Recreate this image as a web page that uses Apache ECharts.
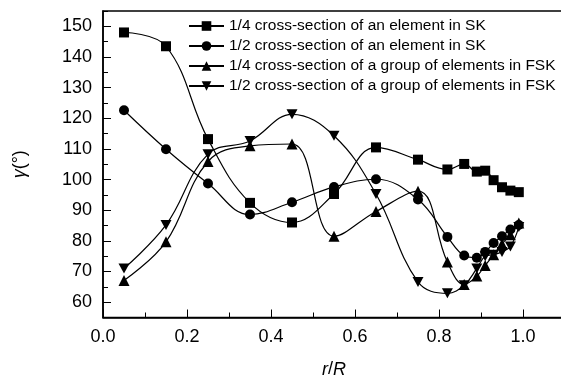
<!DOCTYPE html>
<html><head><meta charset="utf-8">
<script src="https://cdn.jsdelivr.net/npm/echarts@6/dist/echarts.min.js"></script>
<style>html,body{margin:0;padding:0;background:#fff}#c{width:561px;height:382px}</style>
</head><body><div id="c"></div>
<script>
// ---- data ----
const seriesNames = [
  '1/4 cross-section of an element in SK',
  '1/2 cross-section of an element in SK',
  '1/4 cross-section of a group of elements in FSK',
  '1/2 cross-section of a group of elements in FSK'
];
const rR = [0.05, 0.15, 0.25, 0.35, 0.45, 0.55, 0.65, 0.75, 0.82, 0.86, 0.89, 0.91, 0.93, 0.95, 0.97, 0.99];
const quarterSK  = [148.0, 143.5, 113.2, 92.4, 86.0, 95.3, 110.5, 106.5, 103.3, 105.1, 102.6, 102.9, 99.8, 97.5, 96.4, 95.9];
const halfSK     = [122.6, 109.9, 98.7, 88.6, 92.6, 97.6, 100.1, 93.5, 81.3, 75.2, 74.5, 76.4, 79.3, 81.5, 83.7, 85.2];
const quarterFSK = [67.1, 79.7, 105.9, 111.0, 111.6, 81.5, 89.6, 96.2, 73.1, 65.8, 68.5, 72.0, 75.5, 79.0, 82.0, 85.8];
const halfFSK    = [71.0, 85.2, 108.3, 112.6, 121.3, 114.3, 95.3, 66.6, 62.9, 65.5, 71.0, 75.0, 75.5, 76.4, 78.2, 84.5];
const xTicks = [0.0, 0.2, 0.4, 0.6, 0.8, 1.0];
const yTicks = [60, 70, 80, 90, 100, 110, 120, 130, 140, 150];
const yMinorTicks = [65, 75, 85, 95, 105, 115, 125, 135, 145, 155];

const valuesList = [quarterSK, halfSK, quarterFSK, halfFSK];
const symbols = ['rect', 'circle', 'triangle', 'path://M0,0 L10,0 L5,9 Z'];
const symSizes = [10, 10, 11, [11, 10]];

const font = 'Liberation Sans, Arial, sans-serif';
const chart = echarts.init(document.getElementById('c'), null, {renderer: 'canvas'});
const option = {
  animation: false,
  backgroundColor: '#fff',
  grid: {left: 103, top: 11, height: 306.5, width: 462, show: true, borderColor: '#000', borderWidth: 1.5,
         containLabel: false, outerBoundsMode: 'none'},
  legend: {
    left: 188, top: 18, orient: 'vertical', padding: 0, itemWidth: 35, itemHeight: 12, itemGap: 4,
    textStyle: {fontFamily: font, fontSize: 15.5, color: '#000', lineHeight: 15},
    data: seriesNames
  },
  xAxis: {
    type: 'value', min: 0, max: 1.1, interval: 0.2,
    name: '{i|r}/{i|R}', nameLocation: 'middle', nameGap: 43,
    nameTextStyle: {fontFamily: font, fontSize: 18, color: '#000', rich: {i: {fontFamily: font, fontSize: 18, fontStyle: 'italic', color: '#000'}}},
    axisLine: {lineStyle: {color: '#000', width: 1.5}},
    axisTick: {inside: true, length: 8, lineStyle: {color: '#000'}},
    minorTick: {show: true, splitNumber: 2, length: 5, lineStyle: {color: '#000'}},
    splitLine: {show: false},
    axisLabel: {fontFamily: font, fontSize: 18, color: '#000', margin: 11,
      formatter: v => (xTicks.some(t => Math.abs(t - v) < 1e-6) ? v.toFixed(1) : '')}
  },
  yAxis: [{
    type: 'value', min: 55, max: 155,
    name: '{i|γ}(°)', nameLocation: 'middle', nameGap: 74, nameRotate: 90,
    nameTextStyle: {fontFamily: font, fontSize: 18, color: '#000', rich: {i: {fontFamily: font, fontSize: 18, fontStyle: 'italic', color: '#000'}}},
    axisLine: {show: true, lineStyle: {color: '#000', width: 1.5}},
    axisTick: {inside: true, length: 8, customValues: yTicks, lineStyle: {color: '#000'}},
    splitLine: {show: false},
    axisLabel: {fontFamily: font, fontSize: 18, color: '#000', margin: 11, customValues: yTicks}
  }, {
    type: 'value', min: 55, max: 155, position: 'left',
    axisLine: {show: false},
    axisTick: {show: true, inside: true, length: 5, customValues: yMinorTicks, lineStyle: {color: '#000'}},
    axisLabel: {show: false},
    splitLine: {show: false}
  }],
  series: seriesNames.map((name, i) => ({
    name: name, type: 'line', smooth: 0.4,
    data: rR.map((r, k) => [r, valuesList[i][k]]),
    symbol: symbols[i], symbolSize: symSizes[i], showSymbol: true,
    lineStyle: {color: '#000', width: 1.2},
    itemStyle: {color: '#000', borderWidth: 0},
    z: 3
  }))
};
chart.setOption(option);
</script></body></html>
